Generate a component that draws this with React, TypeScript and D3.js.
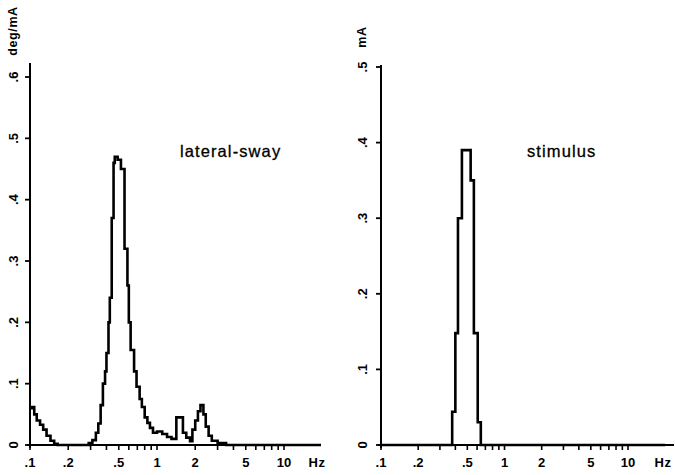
import React from "react";
import * as d3 from "d3";

// lateral-sway transfer function (deg/mA), step spectrum
const swayFreq = [0.1, 0.104, 0.108, 0.113, 0.12, 0.127, 0.135, 0.145, 0.155, 0.165, 0.29, 0.31, 0.33, 0.345, 0.36, 0.375, 0.39, 0.4, 0.415, 0.425, 0.44, 0.455, 0.465, 0.49, 0.52, 0.555, 0.585, 0.6, 0.62, 0.66, 0.69, 0.73, 0.76, 0.8, 0.84, 0.88, 0.93, 1.0, 1.1, 1.2, 1.3, 1.42, 1.6, 1.7, 1.82, 1.9, 2.0, 2.1, 2.2, 2.32, 2.42, 2.55, 2.7, 3.0, 3.5, 20];
const swayAmp = [0.06, 0.062, 0.05, 0.04, 0.033, 0.025, 0.015, 0.007, 0.002, 0, 0.003, 0.008, 0.02, 0.035, 0.065, 0.1, 0.12, 0.15, 0.2, 0.24, 0.37, 0.46, 0.47, 0.465, 0.45, 0.32, 0.26, 0.2, 0.155, 0.12, 0.095, 0.075, 0.062, 0.045, 0.036, 0.028, 0.02, 0.022, 0.018, 0.013, 0.01, 0.045, 0.02, 0.012, 0.006, 0.025, 0.04, 0.055, 0.065, 0.05, 0.03, 0.015, 0.007, 0.003, 0, 0];

// stimulus spectrum (mA)
const stimFreq = [0.1, 0.377, 0.4, 0.42, 0.452, 0.532, 0.565, 0.607, 0.643, 20];
const stimAmp = [0, 0.044, 0.148, 0.3, 0.39, 0.35, 0.148, 0.03, 0, 0];

const xTickLabels = [".1", ".2", ".5", "1", "2", "5", "10"];
const xTickValues = [0.1, 0.2, 0.5, 1, 2, 5, 10];
const xMinorTicks = [0.1, 0.2, 0.3, 0.4, 0.5, 0.6, 0.7, 0.8, 0.9, 1, 2, 3, 4, 5, 6, 7, 8, 9, 10];
const leftYTicks = [0, 0.1, 0.2, 0.3, 0.4, 0.5, 0.6];
const leftYLabels = ["0", ".1", ".2", ".3", ".4", ".5", ".6"];
const rightYTicks = [0, 0.1, 0.2, 0.3, 0.4, 0.5];
const rightYLabels = ["0", ".1", ".2", ".3", ".4", ".5"];

const FONT = "'Liberation Sans', Arial, Helvetica, sans-serif";

type PanelProps = {
  freq: number[];
  amp: number[];
  x0: number;
  x1: number;
  axisEnd: number;
  hzX: number;
  yMax: number;
  yTop: number;
  axisTop: number;
  yTicks: number[];
  yLabels: string[];
  yLabelX: number;
  unit: string;
  unitY: number;
  title: string;
  titleX: number;
};

function Panel(p: PanelProps) {
  const x = d3.scaleLog().domain([0.1, 10]).range([p.x0, p.x1]);
  const y = d3.scaleLinear().domain([0, p.yMax]).range([445, p.yTop]);
  const fEnd = x.invert(p.axisEnd);
  const pts: [number, number][] = p.freq.map((f, i) => [Math.min(f, fEnd), p.amp[i]]);
  const line = d3
    .line<[number, number]>()
    .x((d) => x(d[0]))
    .y((d) => y(d[1]))
    .curve(d3.curveStepAfter);
  const base = y(0);
  return (
    <g fontFamily={FONT} fill="#000">
      {/* y axis */}
      <line x1={p.x0} x2={p.x0} y1={p.axisTop} y2={base + 3} stroke="#000" strokeWidth={2} />
      {p.yTicks.map((t, i) => (
        <g key={"yt" + i}>
          <line x1={p.x0 - 5} x2={p.x0} y1={y(t)} y2={y(t)} stroke="#000" strokeWidth={1.8} />
          <text
            transform={`translate(${p.yLabelX},${y(t)}) rotate(-90)`}
            textAnchor="middle"
            dy="0.35em"
            fontSize={13}
            fontWeight="bold"
          >
            {p.yLabels[i]}
          </text>
        </g>
      ))}
      <text
        transform={`translate(${p.yLabelX},${p.unitY}) rotate(-90)`}
        textAnchor="middle"
        dy="0.35em"
        fontSize={12.5}
        fontWeight="bold"
        letterSpacing={0.6}
      >
        {p.unit}
      </text>
      {/* x axis */}
      <line x1={p.x0 - 3} x2={p.axisEnd} y1={base} y2={base} stroke="#000" strokeWidth={2} />
      {xMinorTicks.map((t, i) => (
        <line key={"xm" + i} x1={x(t)} x2={x(t)} y1={base} y2={base + 5} stroke="#000" strokeWidth={1.6} />
      ))}
      {xTickValues.map((t, i) => (
        <text key={"xl" + i} x={x(t)} y={467} textAnchor="middle" fontSize={13} fontWeight="bold">
          {xTickLabels[i]}
        </text>
      ))}
      <text x={p.hzX} y={467} textAnchor="middle" fontSize={13} fontWeight="bold" letterSpacing={0.5}>
        Hz
      </text>
      {/* curve */}
      <path d={line(pts) || ""} fill="none" stroke="#000" strokeWidth={2.6} strokeLinejoin="miter" />
      <text x={p.titleX} y={157} fontSize={16.5} letterSpacing={1.1} stroke="#000" strokeWidth={0.3}>
        {p.title}
      </text>
    </g>
  );
}

export default function App() {
  return (
    <div style={{ position: "absolute", left: 0, top: 0 }}>
      <svg width={675} height={475} viewBox="0 0 675 475" style={{ display: "block", background: "#fff" }}>
        <rect width={675} height={475} fill="#fff" />
        <Panel
          freq={swayFreq}
          amp={swayAmp}
          x0={30}
          x1={284}
          axisEnd={321}
          hzX={317}
          yMax={0.6}
          yTop={77}
          axisTop={63}
          yTicks={leftYTicks}
          yLabels={leftYLabels}
          yLabelX={13}
          unit="deg/mA"
          unitY={31}
          title="lateral-sway"
          titleX={180}
        />
        <Panel
          freq={stimFreq}
          amp={stimAmp}
          x0={381}
          x1={628}
          axisEnd={674}
          hzX={663}
          yMax={0.5}
          yTop={67}
          axisTop={65}
          yTicks={rightYTicks}
          yLabels={rightYLabels}
          yLabelX={362}
          unit="mA"
          unitY={37}
          title="stimulus"
          titleX={527}
        />
      </svg>
    </div>
  );
}
